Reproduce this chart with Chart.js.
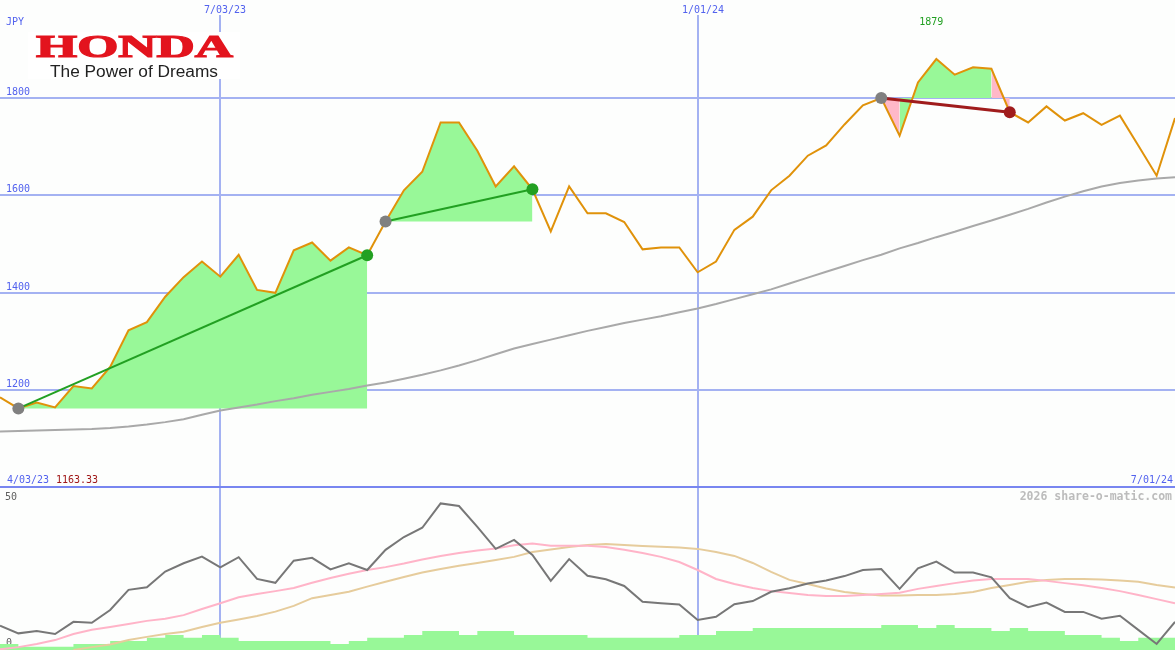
<!DOCTYPE html>
<html>
<head>
<meta charset="utf-8">
<script src="https://cdn.jsdelivr.net/npm/chart.js@4.4.1/dist/chart.umd.min.js"></script>
<style>
  body { margin: 0; background: #fdfefd; }
  #wrap { position: relative; width: 1175px; height: 650px; overflow: hidden; }
  #top { position: absolute; left: 0; top: 0; }
  #bot { position: absolute; left: 0; top: 488px; }
</style>
</head>
<body>
<div id="wrap">
  <canvas id="top" width="1175" height="488"></canvas>
  <canvas id="bot" width="1175" height="162"></canvas>
</div>
<script>
// weekly closes, index 0 = first week shown
const price = [1186, 1163, 1175, 1165, 1209, 1204, 1248, 1323, 1340, 1392,
  1432, 1464, 1433, 1478, 1406, 1400, 1487, 1503, 1466, 1493,
  1477, 1546, 1610, 1648, 1749, 1749, 1691, 1618, 1659, 1612,
  1526, 1618, 1563, 1563, 1545, 1489, 1493, 1493, 1442, 1464,
  1529, 1556, 1610, 1640, 1681, 1702, 1745, 1784, 1799, 1722,
  1831, 1879, 1847, 1862, 1859, 1770, 1749, 1782, 1753, 1768,
  1744, 1763, 1702, 1640, 1758];
const priceAvg = [1116, 1117, 1118, 1119, 1120, 1121, 1123, 1126, 1130, 1135,
  1141, 1150, 1159, 1165, 1171, 1178, 1184, 1191, 1197, 1203,
  1210, 1216, 1224, 1232, 1241, 1251, 1262, 1274, 1286, 1295,
  1304, 1313, 1322, 1330, 1338, 1345, 1352, 1360, 1368, 1377,
  1387, 1397, 1407, 1419, 1431, 1443, 1455, 1467, 1478, 1491,
  1502, 1514, 1525, 1537, 1548, 1560, 1572, 1585, 1597, 1608,
  1618, 1625, 1630, 1634, 1637];
// lower panel
const osc = [7.6, 5.2, 5.9, 5.0, 8.8, 8.5, 12.5, 18.8, 19.6, 24.5,
  27.1, 29.2, 25.8, 29.0, 22.2, 21.0, 27.9, 28.8, 25.2, 27.1,
  25.0, 31.3, 35.3, 38.2, 45.8, 45.0, 38.5, 31.6, 34.4, 29.7,
  21.6, 28.4, 23.2, 22.1, 20.0, 15.1, 14.6, 14.2, 9.4, 10.4,
  14.3, 15.3, 18.2, 19.3, 20.8, 21.7, 23.1, 25.0, 25.3, 19.1,
  25.5, 27.6, 24.2, 24.2, 22.7, 16.2, 13.4, 14.8, 11.9, 11.9,
  9.8, 10.7, 6.3, 1.9, 8.8];
const oscFast = [0.2, 0.9, 1.9, 3.1, 5.0, 6.3, 7.2, 8.1, 9.1, 9.8,
  10.9, 12.8, 14.6, 16.5, 17.5, 18.4, 19.4, 21.0, 22.5, 23.8,
  25.0, 25.9, 27.0, 28.3, 29.4, 30.3, 31.1, 31.7, 32.7, 33.3,
  32.6, 32.6, 32.6, 32.2, 31.3, 30.3, 29.1, 27.5, 25.0, 22.2,
  20.6, 19.4, 18.4, 17.8, 17.2, 16.9, 16.9, 17.2, 17.5, 17.9,
  19.1, 20.0, 20.9, 21.7, 22.2, 22.2, 22.2, 21.6, 20.9, 20.2,
  19.4, 18.4, 17.2, 15.9, 14.6];
const oscSlow = [null, null, null, null, 0.0, 0.9, 1.7, 3.1, 4.1, 5.0,
  5.7, 7.2, 8.5, 9.5, 10.6, 12.0, 13.8, 16.2, 17.2, 18.2,
  19.8, 21.3, 22.8, 24.2, 25.3, 26.3, 27.2, 28.1, 29.1, 30.6,
  31.4, 32.2, 32.8, 33.1, 32.8, 32.5, 32.3, 32.0, 31.6, 30.6,
  29.4, 27.2, 24.4, 21.9, 20.6, 19.2, 18.1, 17.5, 17.0, 17.0,
  17.2, 17.2, 17.5, 18.1, 19.4, 20.3, 21.3, 21.9, 22.2, 22.2,
  22.0, 21.7, 21.3, 20.3, 19.5];
// one value per week interval
const volume = [1.9, 1.9, 1.0, 1.0, 1.0, 1.9, 1.9, 2.8, 2.8, 3.8,
  4.7, 3.8, 4.7, 3.8, 2.8, 2.8, 2.8, 2.8, 2.8, 1.9,
  2.8, 3.8, 3.8, 4.7, 5.9, 5.9, 4.7, 5.9, 5.9, 4.7,
  4.7, 4.7, 4.7, 3.8, 3.8, 3.8, 3.8, 3.8, 4.7, 4.7,
  5.9, 5.9, 6.9, 6.9, 6.9, 6.9, 6.9, 6.9, 6.9, 7.8,
  7.8, 6.9, 7.8, 6.9, 6.9, 5.9, 6.9, 5.9, 5.9, 4.7,
  4.7, 3.8, 2.8, 3.8];

const priceTicks = [1200, 1400, 1600, 1800];
const dateTickIdx = [12, 38];
const dateLabels = ['7/03/23', '1/01/24'];
const startLabel = '4/03/23';
const endLabel = '7/01/24';
const lowLabel = '1163.33';
const highIdx = 51;
const upRuns = [[1, 20], [21, 29]];
const downRun = [48, 55];

const GREEN_FILL = '#98f898';
const PINK_FILL = '#ffb8c8';
const GRID = '#a4b2f2';
const LABEL = '#5262ee';
const MONO = '10px "DejaVu Sans Mono"';

const pts = (arr, a, b) => arr.slice(a, b + 1).map((v, k) => ({ x: a + k, y: v }));

// shade between the price and the run's start level, colour per segment
function makeFills(a, b) {
    const base = price[a];
    const out = [];
    let start = a;
    let col = price[a + 1] >= base ? GREEN_FILL : PINK_FILL;
    for (let j = a + 1; j < b; j++) {
        const c = price[j + 1] >= base ? GREEN_FILL : PINK_FILL;
        if (c !== col) {
            out.push({ a: start, b: j, col: col });
            start = j;
            col = c;
        }
    }
    out.push({ a: start, b: b, col: col });
    return out.map(r => ({
        data: pts(price, r.a, r.b),
        fill: { value: base },
        backgroundColor: r.col,
        borderWidth: 0,
        pointRadius: 0,
        order: 10
    }));
}

function trendLine(a, b, color, width) {
    return {
        data: [{ x: a, y: price[a] }, { x: b, y: price[b] }],
        borderColor: color,
        borderWidth: width,
        pointRadius: 6,
        pointBorderWidth: 0,
        pointBackgroundColor: ['#808080', color],
        fill: false,
        order: 1
    };
}

const topSets = [];
upRuns.forEach(r => topSets.push(...makeFills(r[0], r[1])));
topSets.push(...makeFills(downRun[0], downRun[1]));
topSets.push({ data: pts(priceAvg, 0, 64), borderColor: '#a9a9a9', borderWidth: 2, pointRadius: 0, fill: false, order: 5 });
topSets.push({ data: pts(price, 0, 64), borderColor: '#e0920a', borderWidth: 2, pointRadius: 0, fill: false, order: 4 });
upRuns.forEach(r => topSets.push(trendLine(r[0], r[1], '#22a022', 2)));
topSets.push(trendLine(downRun[0], downRun[1], '#a01c1c', 3));

const topGrid = {
    id: 'topGrid',
    beforeDatasetsDraw(chart) {
        const ctx = chart.ctx, xs = chart.scales.x, ys = chart.scales.y;
        ctx.save();
        ctx.fillStyle = GRID;
        priceTicks.forEach(v => {
            const y = Math.round(ys.getPixelForValue(v));
            ctx.fillRect(0, y - 1, chart.width, 2);
        });
        dateTickIdx.forEach(i => {
            const x = Math.round(xs.getPixelForValue(i));
            ctx.fillRect(x - 1, 15, 2, chart.height - 15);
        });
        // logo box
        ctx.fillStyle = '#ffffff';
        ctx.fillRect(28, 32, 212, 47);
        ctx.restore();
    },
    afterDraw(chart) {
        const ctx = chart.ctx, xs = chart.scales.x, ys = chart.scales.y;
        ctx.save();
        // logo
        ctx.fillStyle = '#e3141e';
        ctx.strokeStyle = '#e3141e';
        ctx.lineWidth = 1.2;
        ctx.font = 'bold 31px "Liberation Serif"';
        let w = ctx.measureText('HONDA').width;
        ctx.save();
        ctx.translate(36, 57);
        ctx.scale(197 / w, 1);
        ctx.fillText('HONDA', 0, 0);
        ctx.strokeText('HONDA', 0, 0);
        ctx.restore();
        ctx.fillStyle = '#222222';
        ctx.font = '16px "Liberation Sans"';
        w = ctx.measureText('The Power of Dreams').width;
        ctx.save();
        ctx.translate(50, 77);
        ctx.scale(168 / w, 1);
        ctx.fillText('The Power of Dreams', 0, 0);
        ctx.restore();

        ctx.font = MONO;
        ctx.textBaseline = 'alphabetic';
        ctx.fillStyle = LABEL;
        ctx.fillText('JPY', 6, 25);
        priceTicks.forEach(v => {
            ctx.fillText(String(v), 6, Math.round(ys.getPixelForValue(v)) - 3);
        });
        dateTickIdx.forEach((i, k) => {
            ctx.fillText(dateLabels[k], Math.round(xs.getPixelForValue(i)) - 16, 13);
        });
        ctx.fillText(startLabel, 7, 483);
        ctx.textAlign = 'right';
        ctx.fillText(endLabel, 1173, 483);
        ctx.textAlign = 'left';
        ctx.fillStyle = '#a01818';
        ctx.fillText(lowLabel, 56, 483);
        ctx.fillStyle = '#22a022';
        ctx.textAlign = 'center';
        ctx.fillText(String(price[highIdx]), xs.getPixelForValue(highIdx) - 5, 25);
        // panel divider
        ctx.fillStyle = '#7886f0';
        ctx.fillRect(0, 486, chart.width, 2);
        ctx.restore();
    }
};

const baseOpts = (ymin, ymax) => ({
    responsive: false,
    animation: false,
    events: [],
    layout: { padding: 0, autoPadding: false },
    elements: { line: { tension: 0 } },
    plugins: { legend: { display: false }, tooltip: { enabled: false } },
    scales: {
        x: { type: 'linear', min: 0, max: 64, display: false },
        y: { min: ymin, max: ymax, display: false }
    }
});

new Chart(document.getElementById('top'), {
    type: 'line',
    data: { datasets: topSets },
    options: baseOpts(1000, 2000),
    plugins: [topGrid]
});

const botGrid = {
    id: 'botGrid',
    beforeDatasetsDraw(chart) {
        const ctx = chart.ctx, xs = chart.scales.x;
        ctx.save();
        ctx.fillStyle = GRID;
        dateTickIdx.forEach(i => {
            const x = Math.round(xs.getPixelForValue(i));
            ctx.fillRect(x - 1, 0, 2, chart.height);
        });
        ctx.font = 'bold 11.5px "DejaVu Sans Mono"';
        ctx.fillStyle = '#bcbcbc';
        ctx.textAlign = 'right';
        ctx.fillText('2026 share-o-matic.com', 1172, 12);
        ctx.textAlign = 'left';
        ctx.font = MONO;
        ctx.fillStyle = '#606060';
        ctx.fillText('50', 5, 12);
        ctx.fillText('0', 6, 158);
        ctx.restore();
    }
};

new Chart(document.getElementById('bot'), {
    type: 'line',
    data: {
        datasets: [
            { data: pts(volume.concat([volume[volume.length - 1]]), 0, 64), stepped: 'after', fill: 'origin',
              backgroundColor: GREEN_FILL, borderWidth: 0, pointRadius: 0, order: 10 },
            { data: pts(oscSlow, 0, 64), borderColor: '#e6cc9c', borderWidth: 2, pointRadius: 0, fill: false, order: 4 },
            { data: pts(oscFast, 0, 64), borderColor: '#ffb4c8', borderWidth: 2, pointRadius: 0, fill: false, order: 3 },
            { data: pts(osc, 0, 64), borderColor: '#777777', borderWidth: 2, pointRadius: 0, fill: false, order: 1 }
        ]
    },
    options: baseOpts(0, 50.625),
    plugins: [botGrid]
});
</script>
</body>
</html>
